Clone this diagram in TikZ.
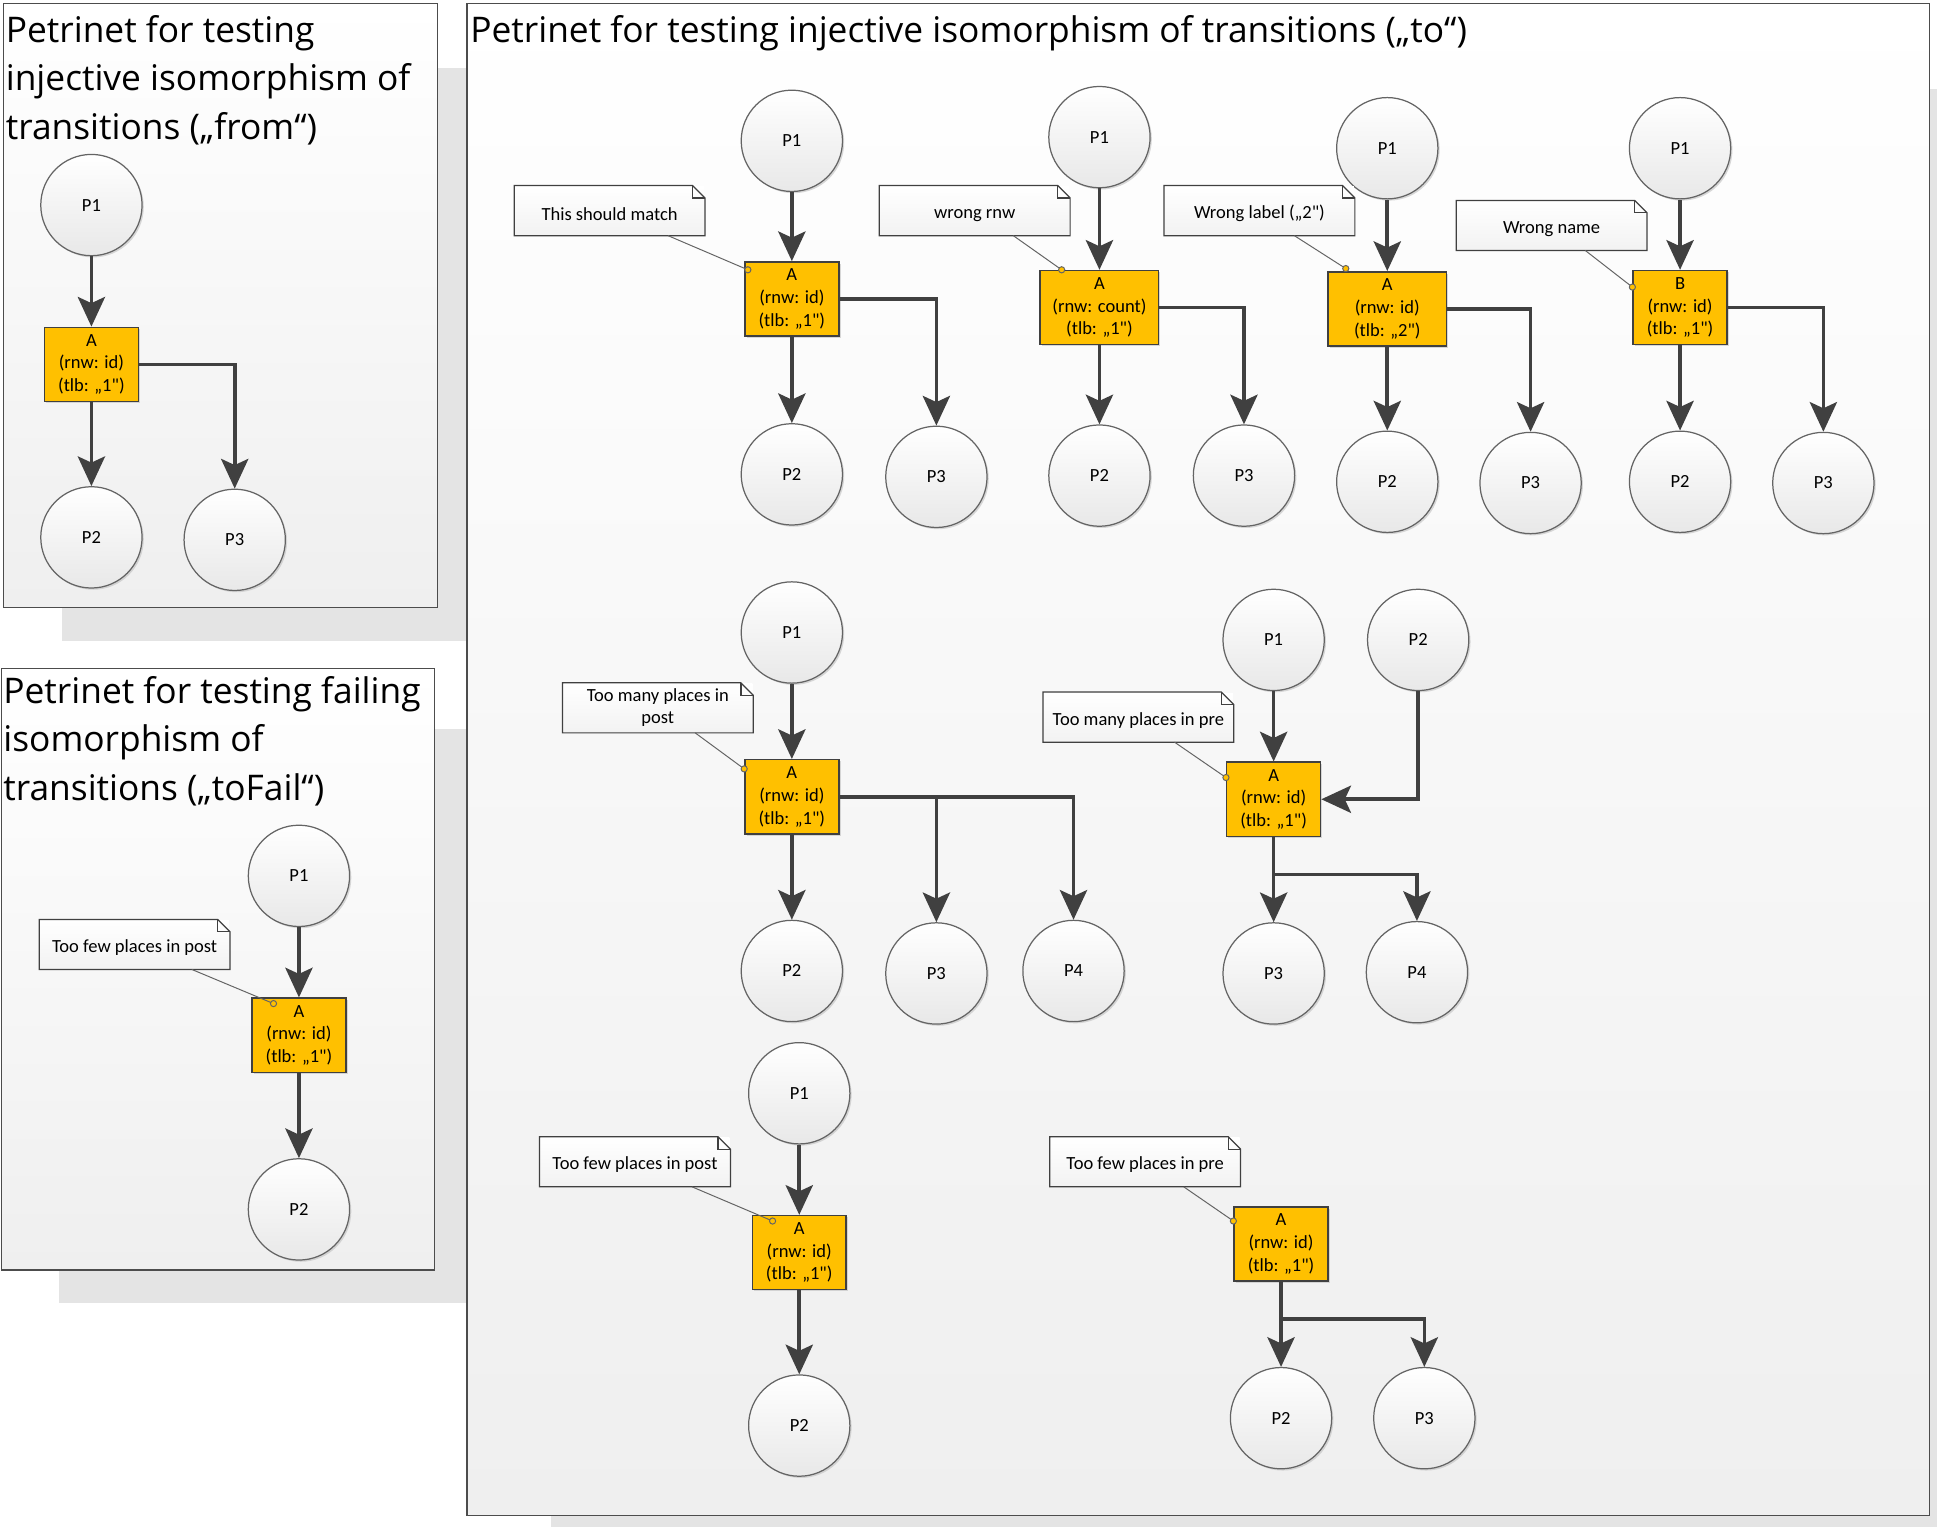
\documentclass[tikz,border=0pt]{standalone}
\usepackage{fontspec}
\setmainfont{Carlito}[Ligatures=TeXOff]
\newfontfamily\titlefont{Open Sans}
\usetikzlibrary{arrows.meta,shadows}

\definecolor{transfill}{RGB}{255,192,0}
\definecolor{darkline}{RGB}{64,64,64}
\definecolor{rimline}{RGB}{100,100,100}
\definecolor{shadegray}{RGB}{228,228,228}
\definecolor{panelbottom}{RGB}{239,239,239}

\tikzset{every picture/.style={line width=0.75pt}}
\tikzset{
  softshadow/.style={drop shadow={shadow xshift=0.7pt, shadow yshift=-0.7pt, fill=black!25, opacity=0.6}},
  place/.style={circle, draw=rimline, line width=0.5pt, top color=white, bottom color=black!9, softshadow,
    minimum size=41pt, inner sep=0pt, font=\fontsize{7.5}{9}\selectfont},
  transbox/.style={rectangle, draw=darkline, line width=0.6pt, fill=transfill, minimum width=38pt, softshadow,
    minimum height=30pt, inner sep=1pt, align=center, font=\fontsize{7.5}{9.2}\selectfont,
    execute at begin node={\rule{0pt}{10pt}}},
  notebox/.style={rectangle, top color=white, bottom color=black!5, minimum width=76.5pt,
    minimum height=19.5pt, inner sep=1pt, align=center, font=\fontsize{7.5}{9}\selectfont,
    execute at begin node={\rule{0pt}{7.8pt}}},
  noteline/.style={draw=darkline, line width=0.5pt},
  callline/.style={draw=rimline, line width=0.4pt},
  arc/.style={draw=darkline, line width=1.5pt, -{Stealth[length=12pt,width=11pt,inset=2.5pt]}},
  panel/.style={draw=black!70, line width=0.5pt, top color=white, bottom color=panelbottom},
  paneltitle/.style={anchor=north west, inner sep=0pt, align=left, font=\titlefont\fontsize{14.3}{19.5}\selectfont},
}

\begin{document}
\begin{tikzpicture}[x=0.5pt,y=0.5pt,yscale=-1,xscale=1]
	\useasboundingbox (0,0) rectangle (1568,1236);

	%Shadows
	\fill[shadegray] (446,72) rectangle (1620,1290);
	\fill[shadegray] (50,55) rectangle (378,519);
	\fill[shadegray] (48,590) rectangle (383,1055);
	%Panels
	\draw[panel] (378,3) rectangle (1562,1227);
	\draw[panel] (3,3) rectangle (354,492);
	\draw[panel] (1,541) rectangle (352,1028);

	% Titles
	\node[paneltitle] (fromT) at (4,12) {Petrinet for testing\\injective isomorphism of\\transitions („from“)};
	\node[paneltitle] (failT) at (2,547) {Petrinet for testing failing\\isomorphism of\\transitions („toFail“)};
	\node[paneltitle] (toT) at (380,12) {Petrinet for testing injective isomorphism of transitions („to“)};

	%Net: from
	\node[place] (fromP1) at (74,166) {P1};
	\node[transbox] (fromA) at (74,295) {A\\(rnw: id)\\(tlb: „1")};
	\node[place] (fromP2) at (74,435) {P2};
	\node[place] (fromP3) at (190,437) {P3};
	\draw[arc] (fromP1) -- (fromA);
	\draw[arc] (fromA) -- (fromP2);
	\draw[arc] (fromA) -| (fromP3);

	%Net: toFail
	\node[place] (failP1) at (242,709) {P1};
	\node[transbox] (failA) at (242,838) {A\\(rnw: id)\\(tlb: „1")};
	\node[place] (failP2) at (242,979) {P2};
	\node[notebox] (failN) at (109,764.5) {Too few places in post};
	\draw[arc] (failP1) -- (failA);
	\draw[arc] (failA) -- (failP2);

	%Net: to, should match
	\node[place] (aP1) at (641,114) {P1};
	\node[transbox] (aA) at (641,242) {A\\(rnw: id)\\(tlb: „1")};
	\node[place] (aP2) at (641,384) {P2};
	\node[place] (aP3) at (758,386) {P3};
	\node[notebox] (aN) at (493.5,170.5) {This should match};
	\draw[arc] (aP1) -- (aA);
	\draw[arc] (aA) -- (aP2);
	\draw[arc] (aA) -| (aP3);

	%Net: to, wrong rnw
	\node[place] (bP1) at (890,111) {P1};
	\node[transbox, minimum width=48pt] (bA) at (890,249) {A\\(rnw: count)\\(tlb: „1")};
	\node[place] (bP2) at (890,385) {P2};
	\node[place] (bP3) at (1007,385) {P3};
	\node[notebox] (bN) at (789,170.5) {wrong rnw};
	\draw[arc] (bP1) -- (bA);
	\draw[arc] (bA) -- (bP2);
	\draw[arc] (bA) -| (bP3);

	%Net: to, wrong label
	\node[place] (cP1) at (1123,120) {P1};
	\node[transbox, minimum width=48pt] (cA) at (1123,250) {A\\(rnw: id)\\(tlb: „2")};
	\node[place] (cP2) at (1123,390) {P2};
	\node[place] (cP3) at (1239,391) {P3};
	\node[notebox] (cN) at (1019.5,170.5) {Wrong label („2")};
	\draw[arc] (cP1) -- (cA);
	\draw[arc] (cA) -- (cP2);
	\draw[arc] (cA) -| (cP3);

	%Net: to, wrong name
	\node[place] (dP1) at (1360,120) {P1};
	\node[transbox] (dB) at (1360,249) {B\\(rnw: id)\\(tlb: „1")};
	\node[place] (dP2) at (1360,390) {P2};
	\node[place] (dP3) at (1476,391) {P3};
	\node[notebox] (dN) at (1256,182.5) {Wrong name};
	\draw[arc] (dP1) -- (dB);
	\draw[arc] (dB) -- (dP2);
	\draw[arc] (dB) -| (dP3);

	%Net: to, too many in post
	\node[place] (eP1) at (641,512) {P1};
	\node[transbox] (eA) at (641,645) {A\\(rnw: id)\\(tlb: „1")};
	\node[place] (eP2) at (641,786) {P2};
	\node[place] (eP3) at (758,788) {P3};
	\node[place] (eP4) at (869,786) {P4};
	\node[notebox] (eN) at (532.5,573) {Too many places in\\post};
	\draw[arc] (eP1) -- (eA);
	\draw[arc] (eA) -- (eP2);
	\draw[arc] (eA) -| (eP4);
	\draw[arc] (eA.east -| eP3) -- (eP3);

	%Net: to, too many in pre
	\node[place] (fP1) at (1031,518) {P1};
	\node[place] (fP2) at (1148,518) {P2};
	\node[transbox] (fA) at (1031,647) {A\\(rnw: id)\\(tlb: „1")};
	\node[place] (fP3) at (1031,788) {P3};
	\node[place] (fP4) at (1147,787) {P4};
	\node[notebox] (fN) at (921.5,580.5) {Too many places in pre};
	\coordinate (fJ) at (1031,708);
	\draw[arc] (fP1) -- (fA);
	\draw[arc] (fP2) |- (fA);
	\draw[arc] (fA) -- (fP3);
	\draw[arc] (fJ) -| (fP4);

	%Net: to, too few in post
	\node[place] (gP1) at (647,885) {P1};
	\node[transbox] (gA) at (647,1014) {A\\(rnw: id)\\(tlb: „1")};
	\node[place] (gP2) at (647,1154) {P2};
	\node[notebox] (gN) at (514,940.5) {Too few places in post};
	\draw[arc] (gP1) -- (gA);
	\draw[arc] (gA) -- (gP2);

	%Net: to, too few in pre
	\node[transbox] (hA) at (1037,1007) {A\\(rnw: id)\\(tlb: „1")};
	\node[place] (hP2) at (1037,1148) {P2};
	\node[place] (hP3) at (1153,1148) {P3};
	\node[notebox] (hN) at (927,940.5) {Too few places in pre};
	\coordinate (hJ) at (1037,1068);
	\draw[arc] (hA) -- (hP2);
	\draw[arc] (hJ) -| (hP3);

	%Note outlines
	\foreach \n in {failN,aN,bN,cN,dN,eN,fN,gN,hN}{
		\draw[noteline] (\n.south west) -- (\n.north west) -- ([shift={(-10,0)}]\n.north east) -- ([shift={(0,10)}]\n.north east) -- (\n.south east) -- cycle;
		\draw[noteline] ([shift={(-10,0)}]\n.north east) -- ([shift={(-10,10)}]\n.north east) -- ([shift={(0,10)}]\n.north east);
	}

	%Callouts
	\coordinate (failC) at ([shift={(18,5)}]failA.north west);
	\coordinate (aC) at ([shift={(3,7)}]aA.north west);
	\coordinate (bC) at ([shift={(18,0)}]bA.north west);
	\coordinate (cC) at ([shift={(15,-2)}]cA.north west);
	\coordinate (dC) at ([shift={(0,14)}]dB.north west);
	\coordinate (eC) at ([shift={(0,8)}]eA.north west);
	\coordinate (fC) at ([shift={(0,13)}]fA.north west);
	\coordinate (gC) at ([shift={(17,5)}]gA.north west);
	\coordinate (hC) at ([shift={(0,12)}]hA.north west);
	\draw[callline] ([shift={(-31,0)}]failN.south east) -- (failC);
	\draw[callline] ([shift={(-30,0)}]aN.south east) -- (aC);
	\draw[callline] ([shift={(-46,0)}]bN.south east) -- (bC);
	\draw[callline] ([shift={(-49,0)}]cN.south east) -- (cC);
	\draw[callline] ([shift={(-50,0)}]dN.south east) -- (dC);
	\draw[callline] ([shift={(-47,0)}]eN.south east) -- (eC);
	\draw[callline] ([shift={(-48,0)}]fN.south east) -- (fC);
	\draw[callline] ([shift={(-31,0)}]gN.south east) -- (gC);
	\draw[callline] ([shift={(-46,0)}]hN.south east) -- (hC);
	\foreach \c in {failC,aC,bC,cC,dC,eC,fC,gC,hC}
		\draw[callline, fill=transfill] (\c) circle (2.5);

\end{tikzpicture}
\end{document}
